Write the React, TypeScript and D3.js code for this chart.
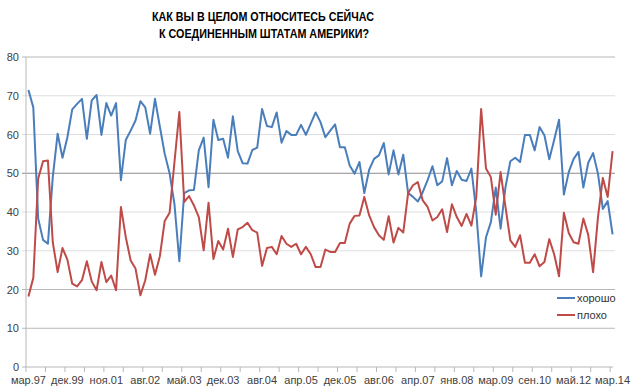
import * as d3 from 'd3';

// survey waves: only every 8th label is shown on the axis
const tickLabels = ['мар.97', 'дек.99', 'ноя.01', 'авг.02', 'май.03', 'дек.03', 'авг.04', 'апр.05',
    'дек.05', 'авг.06', 'апр.07', 'янв.08', 'мар.09', 'сен.10', 'май.12', 'мар.14'];

const good = [
    71.5, 67, 38.3, 32.8, 31.8, 49, 60.2, 54, 59.3, 66.5,
    67.9, 69.2, 58.9, 68.8, 70.2, 59.9, 68.1, 64.9, 68.1, 48.2,
    58.6, 61, 63.6, 68.6, 67, 60.2, 69.2, 62, 55, 50,
    42, 27.3, 44.9, 45.6, 45.7, 55.9, 59.2, 46.4, 63.8, 58.6,
    58.9, 54, 64.7, 55.7, 52.6, 52.5, 56, 56.6, 66.6, 62.2,
    61.9, 65.7, 57.9, 60.9, 59.9, 59.9, 62.5, 59.9, 62.8, 65.7,
    63.2, 59.3, 61, 62.6, 56.7, 56.7, 52, 49.9, 52.9, 44.9,
    50.9, 53.7, 54.6, 57.8, 49.7, 55.9, 49.7, 54.8, 44.9, 43.9,
    42.7, 45.1, 48.2, 51.8, 46.9, 47.9, 53.9, 46.9, 50.6, 48.3,
    48, 51.2, 40, 23.4, 33.5, 37.4, 46.3, 35.7, 46.4, 53.1,
    54, 52.9, 59.9, 59.9, 55.9, 61.9, 59.8, 53.6, 58.6, 63.8,
    44.5, 50.3, 53.7, 55.5, 46.3, 52.7, 55.2, 49.9, 40.8, 42.8,
    34.2
];

const bad = [
    18.2, 23, 48.6, 53.1, 53.3, 32.2, 24.5, 30.7, 27.7, 21.5,
    20.8, 22.4, 27.3, 22.1, 19.8, 27.1, 21.9, 23.6, 19.8, 41.3,
    33.5, 27.5, 25.4, 18.5, 22.4, 29.1, 23.8, 28.6, 37.7, 39.8,
    52.9, 65.8, 42.6, 44.1, 41.7, 38.7, 30.1, 42.4, 27.9, 32.5,
    30.3, 35.7, 28.4, 35.5, 36.1, 37.2, 35.3, 34.7, 26.1, 30.7,
    31, 29.1, 33.8, 31.8, 31, 31.8, 29.1, 31, 29.1, 25.8,
    25.8, 30.3, 29.7, 29.7, 32, 32, 37, 39, 39.1, 43.9,
    39.1, 36.1, 34, 32.8, 38.9, 32.1, 35.9, 34.7, 44.9, 46.9,
    47.7, 43, 41.3, 37.8, 38.7, 40.7, 34.8, 42, 38.7, 36.4,
    39.5, 36.5, 43.9, 66.6, 51.2, 49, 39.3, 50.3, 41.3, 32.7,
    31, 34, 26.9, 26.9, 29.1, 26, 27.1, 33, 29.1, 23.4,
    39.8, 34.6, 32.2, 31.8, 38.3, 34.1, 24.5, 38.7, 48.8, 43.9,
    55.7
];

const yTicks = [0, 10, 20, 30, 40, 50, 60, 70, 80];

const W = 640, H = 391;
const left = 26, right = 615, top = 57, bottom = 367;
const font = '"Liberation Sans", Arial, sans-serif';

export default function App() {
    const idx = d3.range(good.length);
    const x = d3.scaleBand<number>().domain(idx).range([left, right]).padding(0);
    const cx = (i: number) => x(i)! + x.bandwidth() / 2;
    const y = d3.scaleLinear().domain([0, 80]).range([bottom, top]);

    const line = d3.line<number>()
        .x((_, i) => cx(i))
        .y(d => y(d));

    const gridColor = (v: number) => v === 50 ? '#8c8c8c' : (v === 80 || v === 20 || v === 10) ? '#b8b8b8' : '#dedede';

    return (
        <div style={{ position: 'absolute', left: 0, top: 0 }}>
            <svg width={W} height={H} style={{ display: 'block', background: '#fff' }}>
                <g fontFamily={font} fontWeight="bold" fontSize={12.5} textAnchor="middle" fill="#000">
                    <text x={263} y={21} textLength={222} lengthAdjust="spacingAndGlyphs">КАК ВЫ В ЦЕЛОМ ОТНОСИТЕСЬ СЕЙЧАС</text>
                    <text x={264} y={37.5} textLength={210} lengthAdjust="spacingAndGlyphs">К СОЕДИНЕННЫМ ШТАТАМ АМЕРИКИ?</text>
                </g>

                {yTicks.filter(v => v > 0).map(v => (
                    <line key={v} x1={22} x2={right} y1={y(v)} y2={y(v)} stroke={gridColor(v)} strokeWidth={1} />
                ))}
                <g fontFamily={font} fontSize={11} fill="#404040" textAnchor="end">
                    {yTicks.map(v => (
                        <text key={v} x={19} y={y(v) + 4}>{v}</text>
                    ))}
                </g>

                <line x1={left} x2={left} y1={top} y2={bottom} stroke="#b8b8b8" />
                <line x1={22} x2={right - 2} y1={bottom} y2={bottom} stroke="#b8b8b8" />
                {idx.filter(i => i % 4 === 0).map(i => (
                    <line key={i} x1={x(i)!} x2={x(i)!} y1={bottom} y2={bottom + 5} stroke="#b8b8b8" />
                ))}
                <g fontFamily={font} fontSize={11} fill="#404040" textAnchor="middle">
                    {tickLabels.map((t, k) => (
                        <text key={t} x={cx(k * 8)} y={384}>{t}</text>
                    ))}
                </g>

                <path d={line(good)!} fill="none" stroke="#4a7ebb" strokeWidth={2} strokeLinejoin="round" />
                <path d={line(bad)!} fill="none" stroke="#be4b48" strokeWidth={2} strokeLinejoin="round" />

                <g fontFamily={font} fontSize={11} fill="#333">
                    <line x1={557} x2={575} y1={298} y2={298} stroke="#4a7ebb" strokeWidth={2} />
                    <text x={577} y={302}>хорошо</text>
                    <line x1={557} x2={575} y1={315} y2={315} stroke="#be4b48" strokeWidth={2} />
                    <text x={577} y={319}>плохо</text>
                </g>
            </svg>
        </div>
    );
}
